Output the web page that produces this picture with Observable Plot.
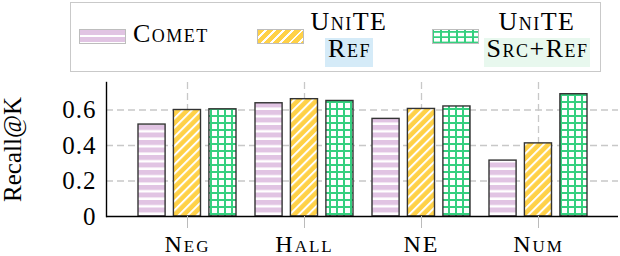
<!DOCTYPE html>
<html><head><meta charset="utf-8">
<script src="https://cdn.jsdelivr.net/npm/d3@7"></script>
<script src="https://cdn.jsdelivr.net/npm/@observablehq/plot@0.6"></script>
<style>
body{margin:0;background:#fff;font-family:"Liberation Serif",serif;}
#wrap{position:relative;width:620px;height:256px;overflow:hidden;}
#legend{position:absolute;left:0;top:0;width:620px;height:80px;}
.box{position:absolute;left:70px;top:2px;width:529px;height:68px;border:1.5px solid #c9c9c9;}
.sw{position:absolute;top:29px;width:45px;height:13px;border:1.5px solid #bdbdbd;}
.lt{position:absolute;font-size:26px;font-variant:small-caps;letter-spacing:1.5px;line-height:27px;white-space:nowrap;color:#000;}
.ctr{text-align:center;width:160px;}
.hl{display:inline-block;line-height:22px;padding:0 2px 7px 3px;}
#chart{position:absolute;left:0;top:80px;}
#chart svg text{font-family:"Liberation Serif",serif !important;}
#chart svg g[aria-label="x-axis tick"]{stroke:#bbb;}
#chart svg g[aria-label="x-axis tick label"] text{font-variant:small-caps !important;letter-spacing:2px;}
#chart svg g[aria-label="y-axis tick label"] text{letter-spacing:1px;}
</style>
</head><body>
<div id="wrap">
  <div id="legend">
    <div class="box"></div>
    <div class="sw" style="left:79px;background:repeating-linear-gradient(to bottom,#e1c4e3 0 4.5px,#fff 4.5px 7px);"></div>
    <div class="lt" id="l0" style="left:133px;top:20px;"></div>
    <div class="sw" style="left:257px;background:repeating-linear-gradient(135deg,#ffd147 0 4.5px,#fff 4.5px 6.5px);"></div>
    <div class="lt ctr" style="left:269px;top:8px;"><span id="l1a"></span><br><span class="hl" id="l1b" style="background:#d5ebf8;"></span></div>
    <div class="sw" style="left:432px;background-color:#fff;background-image:linear-gradient(to right,#35d07f 2px,transparent 2px),linear-gradient(to bottom,#35d07f 2px,transparent 2px);background-size:8px 5.3px;background-position:-1px 1px;"></div>
    <div class="lt ctr" style="left:457px;top:8px;"><span id="l2a"></span><br><span class="hl" id="l2b" style="background:#e8f8ee;"></span></div>
  </div>
  <div id="chart"></div>
</div>
<script>
const categories = ["Neg", "Hall", "NE", "Num"];
const legendNames = ["Comet", "UniTE", "Ref", "UniTE", "Src+Ref"];
const comet = [0.518, 0.638, 0.550, 0.315];
const uniteRef = [0.600, 0.661, 0.606, 0.412];
const uniteSrcRef = [0.604, 0.651, 0.620, 0.689];
const yTicks = [0, 0.2, 0.4, 0.6];
const yTickLabels = ["0", "0.2", "0.4", "0.6"];
const yLabel = "Recall@K";

document.getElementById("l0").textContent = legendNames[0];
document.getElementById("l1a").textContent = legendNames[1];
document.getElementById("l1b").textContent = legendNames[2];
document.getElementById("l2a").textContent = legendNames[3];
document.getElementById("l2b").textContent = legendNames[4];

const rows = (vals) => categories.map((c, i) => ({cat: c, v: vals[i]}));
const barStyle = {stroke: "#333", strokeWidth: 1.4};
const serif = "Liberation Serif";

const chart = Plot.plot({
  width: 620,
  height: 176,
  marginTop: 2,
  marginBottom: 40,
  marginLeft: 106,
  marginRight: 2,
  style: {fontFamily: "'Liberation Serif', serif", background: "transparent", color: "#000", overflow: "visible"},
  x: {domain: categories, paddingInner: 0.1636, paddingOuter: 0.2513},
  y: {domain: [0, 0.755]},
  marks: [
    Plot.ruleY(yTicks.slice(1), {stroke: "#c8c8c8", strokeWidth: 1.3, strokeDasharray: "7,4"}),
    Plot.ruleX(categories, {stroke: "#c8c8c8", strokeWidth: 1.3, strokeDasharray: "7,4"}),
    Plot.barY(rows(comet), {x: "cat", y: "v", fill: "url(#pComet)", insetLeft: 0, insetRight: 70.9, ...barStyle}),
    Plot.barY(rows(uniteRef), {x: "cat", y: "v", fill: "url(#pRef)", insetLeft: 35.4, insetRight: 35.5, ...barStyle}),
    Plot.barY(rows(uniteSrcRef), {x: "cat", y: "v", fill: "url(#pSrc)", insetLeft: 70.9, insetRight: 0, ...barStyle}),
    Plot.frame({anchor: "left", stroke: "#000", strokeWidth: 1.4}),
    Plot.ruleY([0], {stroke: "#000", strokeWidth: 1.4}),
    Plot.axisX({tickSize: 12, tickPadding: 6, fontSize: 24, fontFamily: serif, label: null}),
    Plot.axisY({ticks: yTicks, tickFormat: (d) => yTickLabels[yTicks.indexOf(d)], tickSize: 0, tickPadding: 10,
      fontSize: 25, fontFamily: serif, fontVariant: "normal",
      label: yLabel, labelArrow: "none", labelAnchor: "center", labelOffset: 103})
  ]
});

const defs = d3.select(chart).insert("defs", ":first-child");
const p1 = defs.append("pattern").attr("id", "pComet").attr("patternUnits", "userSpaceOnUse").attr("width", 10).attr("height", 7.5);
p1.append("rect").attr("width", 10).attr("height", 7.5).attr("fill", "#e1c4e3");
p1.append("rect").attr("y", 5).attr("width", 10).attr("height", 2.5).attr("fill", "#fff");
const p2 = defs.append("pattern").attr("id", "pRef").attr("patternUnits", "userSpaceOnUse").attr("width", 6.5).attr("height", 6.5).attr("patternTransform", "rotate(45)");
p2.append("rect").attr("width", 6.5).attr("height", 6.5).attr("fill", "#ffd147");
p2.append("rect").attr("width", 2).attr("height", 6.5).attr("fill", "#fff");
const p3 = defs.append("pattern").attr("id", "pSrc").attr("patternUnits", "userSpaceOnUse").attr("width", 7).attr("height", 7);
p3.append("rect").attr("width", 7).attr("height", 7).attr("fill", "#fff");
p3.append("rect").attr("width", 2).attr("height", 7).attr("fill", "#35d07f");
p3.append("rect").attr("width", 7).attr("height", 2).attr("fill", "#35d07f");

document.getElementById("chart").appendChild(chart);
</script>
</body></html>
